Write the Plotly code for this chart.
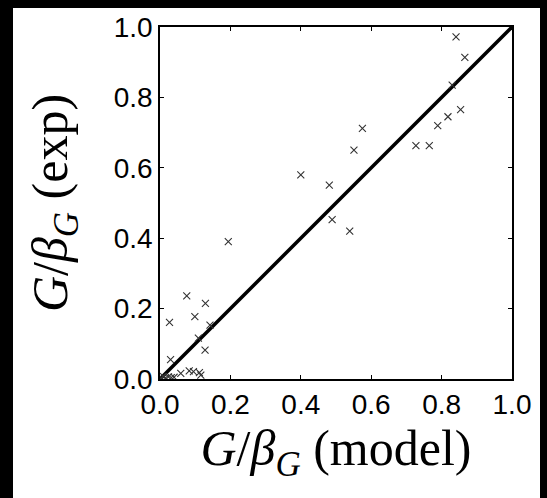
import plotly.graph_objects as go

g_model = [0.841, 0.866, 0.830, 0.854, 0.818, 0.789, 0.765, 0.727,
           0.575, 0.551, 0.400, 0.481, 0.489, 0.539, 0.194,
           0.076, 0.129, 0.099, 0.027, 0.142, 0.109, 0.128, 0.030,
           0.059, 0.083, 0.095, 0.112, 0.116,
           0.004, 0.010, 0.016, 0.024, 0.032, 0.040]
g_exp = [0.972, 0.914, 0.835, 0.765, 0.745, 0.720, 0.663, 0.663,
         0.712, 0.650, 0.580, 0.551, 0.453, 0.420, 0.390,
         0.236, 0.215, 0.177, 0.161, 0.153, 0.116, 0.082, 0.055,
         0.016, 0.023, 0.021, 0.018, 0.011,
         0.004, 0.007, 0.003, 0.006, 0.004, 0.005]
diag_x = [0.0, 1.0]
diag_y = [0.0, 1.0]
tick_vals = [0.0, 0.2, 0.4, 0.6, 0.8, 1.0]
tick_text = ["0.0", "0.2", "0.4", "0.6", "0.8", "1.0"]

W, H = 547, 498
L, R, T, B = 160, 35, 27, 119
PW = W - L - R
PH = H - T - B

fig = go.Figure()
fig.add_trace(go.Scatter(x=diag_x, y=diag_y, mode="lines",
                         line=dict(color="black", width=3.5),
                         showlegend=False, hoverinfo="skip"))
fig.add_trace(go.Scatter(x=g_model, y=g_exp, mode="markers",
                         marker=dict(symbol="x-thin", size=7,
                                     line=dict(color="#333333", width=1.1)),
                         showlegend=False))

def px_x(p):
    return (p - L) / PW

def px_y(p):
    return (H - B - p) / PH

# black frame strips at top, left and right of the image
strips = [
    (0, 0, 13, H),
    (0, 0, W, 8),
    (540, 0, W, H),
]
shapes = []
for x0, y0, x1, y1 in strips:
    shapes.append(dict(type="rect", xref="paper", yref="paper",
                       x0=px_x(x0), x1=px_x(x1), y0=px_y(y1), y1=px_y(y0),
                       fillcolor="black", line=dict(width=0), layer="above"))

tickfont = dict(family="Liberation Sans, Arial, sans-serif", size=28, color="black")
titlefont = dict(family="Liberation Serif, Times New Roman, serif", size=50, color="black")

axis_common = dict(range=[0, 1], tickvals=tick_vals, ticktext=tick_text,
                   ticks="inside", ticklen=4, tickwidth=1.2, tickcolor="black",
                   showline=True, linecolor="black", linewidth=1.6, mirror="ticks",
                   showgrid=False, zeroline=False, tickfont=tickfont,
                   fixedrange=True)

fig.update_layout(
    width=W, height=H, autosize=False,
    margin=dict(l=L, r=R, t=T, b=B, pad=0),
    paper_bgcolor="white", plot_bgcolor="white",
    xaxis=dict(**axis_common,
               title=dict(text="<i>G</i>/<i>β</i><sub><i>G</i></sub> (model)",
                          font=titlefont, standoff=8)),
    yaxis=dict(**axis_common,
               title=dict(text="<i>G</i>/<i>β</i><sub><i>G</i></sub> (exp)",
                          font=titlefont, standoff=30)),
    shapes=shapes,
)

fig.write_html("out.html", config={"displayModeBar": False},
               post_script="document.body.style.margin='0';")
